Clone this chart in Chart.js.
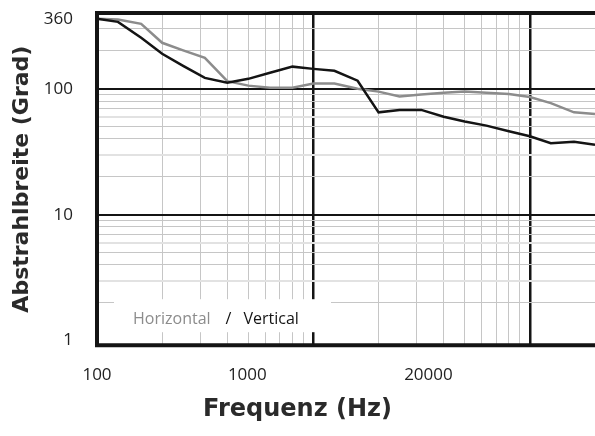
<!DOCTYPE html>
<html>
<head>
<meta charset="utf-8">
<script src="https://cdn.jsdelivr.net/npm/chart.js@4.4.1/dist/chart.umd.min.js"></script>
<style>
  html, body { margin: 0; padding: 0; background: #fff; }
</style>
</head>
<body>
<canvas id="beamChart" width="595" height="436"></canvas>
<script>
// third-octave frequencies (Hz) and beam width (degrees)
const freqs = [100, 125, 160, 200, 250, 315, 400, 500, 630, 800, 1000, 1250, 1600, 2000, 2500, 3150, 4000, 5000, 6300, 8000, 10000, 12500, 16000, 20000];
const horizontalDeg = [360, 355, 328, 232, 202, 176, 115, 106, 102, 102, 110, 110, 100, 95, 87, 90, 93, 95, 93, 91, 86, 77, 65, 63];
const verticalDeg = [360, 340, 254, 190, 152, 122, 112, 120, 134, 150, 144, 139, 116, 65, 68, 68, 60, 55, 51, 46, 42, 37, 38, 36];
const seriesNames = ['Horizontal', 'Vertical'];

// grid lines
const xGridValues = [200, 300, 400, 500, 600, 700, 800, 900, 1000, 2000, 3000, 4000, 5000, 6000, 7000, 8000, 9000, 10000];
const yGridValues = [1, 2, 3, 4, 5, 6, 7, 8, 9, 10, 20, 30, 40, 50, 60, 70, 80, 90, 100, 200, 300, 360];

// tick labels (the x labels sit where they are printed in the original)
const yTickValues = [1, 10, 100, 360];
const yTickLabels = ['1', '10', '100', '360'];
const xTickAt = [100, 495, 3400];
const xTickLabels = ['100', '1000', '20000'];

const BLACK = '#141414';
const GRAY = '#8c8c8c';

const legendBox = {
  id: 'legendBox',
  beforeDatasetsDraw(chart) {
    const { ctx, chartArea } = chart;
    const x = chartArea.left + 17;
    const y = chartArea.bottom - 46;
    ctx.save();
    ctx.fillStyle = '#fff';
    ctx.fillRect(x, y, 217, 33);
    ctx.font = '16px "Open Sans"';
    ctx.textBaseline = 'alphabetic';
    const base = y + 25;
    let tx = x + 19;
    ctx.fillStyle = GRAY;
    ctx.fillText(seriesNames[0], tx, base);
    tx += ctx.measureText(seriesNames[0]).width + 15;
    ctx.fillStyle = BLACK;
    ctx.fillText('/', tx, base);
    tx += ctx.measureText('/').width + 12;
    ctx.fillText(seriesNames[1], tx, base);
    ctx.restore();
  }
};

const frame = {
  id: 'frame',
  afterDraw(chart) {
    const { ctx, chartArea } = chart;
    ctx.save();
    ctx.strokeStyle = BLACK;
    ctx.lineWidth = 4;
    ctx.beginPath();
    ctx.moveTo(chartArea.left, chartArea.top);
    ctx.lineTo(chartArea.right, chartArea.top);
    ctx.moveTo(chartArea.left, chartArea.top - 2);
    ctx.lineTo(chartArea.left, chartArea.bottom + 2);
    ctx.moveTo(chartArea.left - 2, chartArea.bottom);
    ctx.lineTo(chartArea.right, chartArea.bottom);
    ctx.stroke();
    ctx.restore();
  }
};

function xGridColor(ctx) {
  const v = ctx.tick && ctx.tick.value;
  if (v === 1000 || v === 10000) return BLACK;
  return '#c6c6c6';
}
function xGridWidth(ctx) {
  const v = ctx.tick && ctx.tick.value;
  return (v === 1000 || v === 10000) ? 2.5 : 1;
}
function yGridColor(ctx) {
  const v = ctx.tick && ctx.tick.value;
  if (v === 1 || v === 360) return 'rgba(0,0,0,0)';
  if (v === 10 || v === 100) return BLACK;
  if (v === 3 || v === 6 || v === 30 || v === 60) return '#e2e2e2';
  return '#c6c6c6';
}
function yGridWidth(ctx) {
  const v = ctx.tick && ctx.tick.value;
  if (v === 10 || v === 100) return 2;
  if (v === 3 || v === 6 || v === 30 || v === 60) return 2;
  return 1;
}

new Chart(document.getElementById('beamChart'), {
  type: 'line',
  data: {
    datasets: [
      {
        label: seriesNames[0],
        data: freqs.map((f, i) => ({ x: f, y: horizontalDeg[i] })),
        borderColor: GRAY,
        borderWidth: 2.5,
        pointRadius: 0,
        tension: 0,
        order: 1
      },
      {
        label: seriesNames[1],
        data: freqs.map((f, i) => ({ x: f, y: verticalDeg[i] })),
        borderColor: BLACK,
        borderWidth: 2.5,
        pointRadius: 0,
        tension: 0,
        order: 0
      }
    ]
  },
  options: {
    responsive: false,
    animation: false,
    layout: { padding: { top: 13, right: 0, left: 0, bottom: 0 } },
    plugins: {
      legend: { display: false },
      tooltip: { enabled: false },
      title: {
        display: true,
        position: 'bottom',
        text: 'Frequenz (Hz)',
        color: '#2a2a2a',
        font: { family: 'DejaVu Sans', size: 24, weight: 'bold' },
        padding: { top: 0, bottom: 12 }
      }
    },
    scales: {
      x: {
        type: 'logarithmic',
        position: 'bottom',
        weight: 0,
        min: 100,
        max: 20000,
        afterBuildTicks: scale => { scale.ticks = xGridValues.map(v => ({ value: v })); },
        afterFit: scale => { scale.height = 0; scale.paddingLeft = 0; scale.paddingRight = 0; },
        ticks: { display: false },
        grid: { color: xGridColor, lineWidth: xGridWidth, drawTicks: false },
        border: { display: false }
      },
      xt: {
        type: 'logarithmic',
        position: 'bottom',
        weight: 1,
        min: 100,
        max: 20000,
        afterBuildTicks: scale => { scale.ticks = xTickAt.map(v => ({ value: v })); },
        afterFit: scale => { scale.height = 50; scale.paddingLeft = 0; scale.paddingRight = 0; },
        ticks: {
          autoSkip: false,
          maxRotation: 0,
          padding: 20,
          color: '#222',
          font: { family: 'Open Sans', size: 17 },
          callback: (value, index) => xTickLabels[index]
        },
        grid: { display: false, drawTicks: false },
        border: { display: false }
      },
      y: {
        type: 'logarithmic',
        min: 0.92,
        max: 400,
        afterBuildTicks: scale => { scale.ticks = yGridValues.map(v => ({ value: v })); },
        afterFit: scale => { scale.width = 97; scale.paddingTop = 0; scale.paddingBottom = 0; },
        ticks: {
          autoSkip: false,
          padding: 24,
          color: '#222',
          font: { family: 'Open Sans', size: 17 },
          callback: value => {
            const k = yTickValues.indexOf(value);
            return k >= 0 ? yTickLabels[k] : '';
          }
        },
        grid: { color: yGridColor, lineWidth: yGridWidth, drawTicks: false },
        border: { display: false },
        title: {
          display: true,
          text: 'Abstrahlbreite (Grad)',
          color: '#2a2a2a',
          font: { family: 'DejaVu Sans', size: 22, weight: 'bold' },
          padding: { top: 9, bottom: 0 }
        }
      }
    }
  },
  plugins: [legendBox, frame]
});
</script>
</body>
</html>
